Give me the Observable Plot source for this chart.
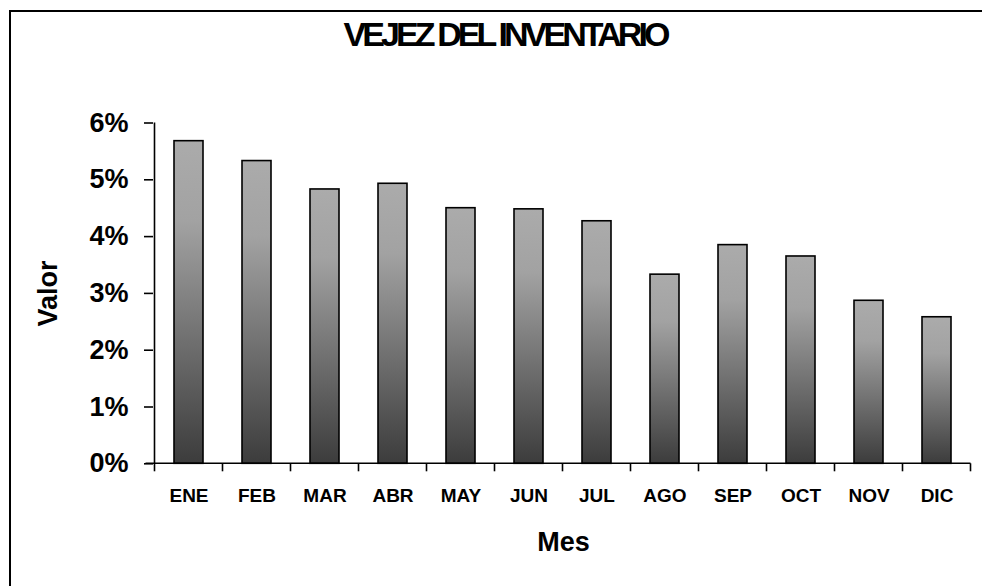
<!DOCTYPE html>
<html>
<head>
<meta charset="utf-8">
<script src="https://cdn.jsdelivr.net/npm/d3@7"></script>
<script src="https://cdn.jsdelivr.net/npm/@observablehq/plot@0.6"></script>
<style>
  html, body { margin: 0; padding: 0; background: #fff; overflow: hidden; }
  #chart svg { display: block; font-family: "Liberation Sans", Arial, sans-serif; overflow: hidden; }
</style>
</head>
<body>
<div id="chart"></div>
<script>
const months = ["ENE", "FEB", "MAR", "ABR", "MAY", "JUN", "JUL", "AGO", "SEP", "OCT", "NOV", "DIC"];
const values = [0.0568, 0.0533, 0.0483, 0.0493, 0.0450, 0.0448, 0.0427, 0.0333, 0.0385, 0.0365, 0.0287, 0.0258];
const yTicks = [0, 0.01, 0.02, 0.03, 0.04, 0.05, 0.06];
const titleText = "VEJEZ DEL INVENTARIO";
const xLabel = "Mes";
const yLabel = "Valor";

const data = months.map((m, i) => ({month: m, value: values[i]}));
const NS = "http://www.w3.org/2000/svg";

function gradientDefs() {
  const defs = document.createElementNS(NS, "defs");
  const g = document.createElementNS(NS, "linearGradient");
  g.setAttribute("id", "barGrad");
  g.setAttribute("x1", "0"); g.setAttribute("y1", "0");
  g.setAttribute("x2", "0"); g.setAttribute("y2", "1");
  [["0", "#ababab"], ["0.25", "#a2a2a2"], ["1", "#3c3c3c"]].forEach(([o, c]) => {
    const s = document.createElementNS(NS, "stop");
    s.setAttribute("offset", o); s.setAttribute("stop-color", c);
    g.appendChild(s);
  });
  defs.appendChild(g);
  return defs;
}

function axisLines(index, scales, values, dims) {
  const x = scales.x, y = scales.y;
  const g = document.createElementNS(NS, "g");
  const step = x.step(), bw = x.bandwidth();
  const y0 = y(0);
  const top = y(yTicks[yTicks.length - 1]);
  const left = x(months[0]) - (step - bw) / 2;
  const right = left + step * months.length;
  const line = (x1, y1, x2, y2) => {
    const l = document.createElementNS(NS, "line");
    l.setAttribute("x1", x1); l.setAttribute("y1", y1);
    l.setAttribute("x2", x2); l.setAttribute("y2", y2);
    l.setAttribute("stroke", "black"); l.setAttribute("stroke-width", 1.6);
    g.appendChild(l);
  };
  line(left, top, left, y0);
  line(left - 9, y0, right, y0);
  for (let i = 0; i <= months.length; i++) {
    const bx = left + i * step;
    line(bx, y0, bx, y0 + 8);
  }
  return g;
}

const plot = Plot.plot({
  width: 982,
  height: 586,
  marginLeft: 153,
  marginRight: 9,
  marginTop: 122.5,
  marginBottom: 122.7,
  style: {fontFamily: "'Liberation Sans', Arial, sans-serif", color: "black", background: "white", overflow: "hidden"},
  x: {domain: months, paddingInner: 0.57, paddingOuter: 0.285, label: null},
  y: {domain: [0, 0.06], label: null},
  marks: [
    gradientDefs,
    Plot.barY(data, {x: "month", y: "value", fill: "url(#barGrad)", stroke: "black", strokeWidth: 1.6}),
    Plot.axisY({ticks: yTicks, tickFormat: d3.format(".0%"), tickSize: 9, tickPadding: 16, fontSize: 27, fontWeight: "bold", label: null, strokeWidth: 1.6}),
    Plot.axisX({tickSize: 0, tickPadding: 25, fontSize: 19, fontWeight: "bold", label: null}),
    axisLines,
    Plot.text([yLabel], {frameAnchor: "left", dx: -105, rotate: -90, textAnchor: "middle", lineAnchor: "middle", fontSize: 27, fontWeight: "bold"}),
    Plot.text([xLabel], {frameAnchor: "bottom", dy: 79, textAnchor: "middle", lineAnchor: "middle", fontSize: 27, fontWeight: "bold"})
  ]
});

const svg = d3.select(plot);
svg.append("path")
  .attr("d", "M10,700V11H1100")
  .attr("fill", "none").attr("stroke", "black").attr("stroke-width", 2);
svg.append("text")
  .attr("x", 505).attr("y", 46)
  .attr("text-anchor", "middle")
  .attr("font-size", 34).attr("font-weight", "bold")
  .attr("letter-spacing", "-3.9px")
  .attr("fill", "black")
  .text(titleText);

document.getElementById("chart").appendChild(plot);
</script>
</body>
</html>
